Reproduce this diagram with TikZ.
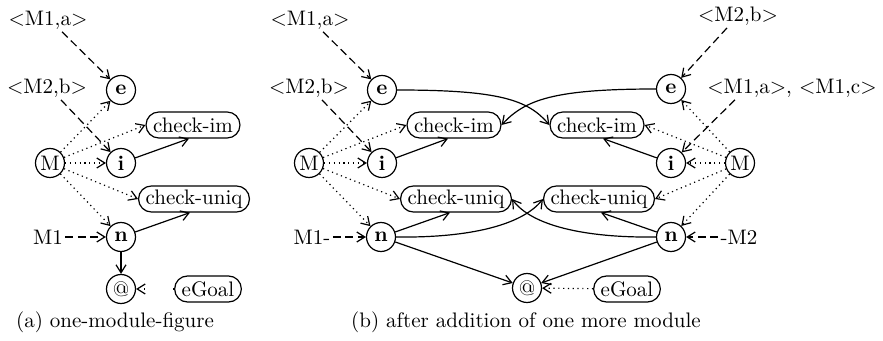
\documentclass[tikz,border=0pt]{standalone}
\usetikzlibrary{arrows.meta}
\begin{document}
\begin{tikzpicture}[x=0.5pt,y=-0.5pt,
  every node/.style={font=\fontsize{10.5}{12.6}\selectfont},
  line width=0.6pt,
  >={Straight Barb[length=4pt,width=5pt]},
  cnode/.style={circle,draw,minimum size=14.5pt,inner sep=0pt},
  rbox/.style={draw,rounded corners=6.4pt,minimum height=13pt,inner xsep=3.5pt,inner ysep=0pt},
  lbl/.style={inner sep=1pt},
  dsh/.style={dash pattern=on 4pt off 2.2pt},
  dotl/.style={dash pattern=on 0.6pt off 1.8pt},
  sparse/.style={dash pattern=on 0.6pt off 14pt}]
\useasboundingbox (0,0) rectangle (883,341);

% ---------- panel (a) ----------
\node[lbl] (la1) at (48,20) {\textless M1,a\textgreater};
\node[lbl] (la2) at (47,88) {\textless M2,b\textgreater};
\node[cnode] (ea) at (121,90) {\textbf{e}};
\node[rbox] (cima) at (193,125) {check-im};
\node[cnode] (Ma) at (50,163) {M};
\node[cnode] (ia) at (121,163) {\textbf{i}};
\node[rbox] (cuna) at (194,199) {check-uniq};
\node[lbl] (m1a) at (48,237) {M1};
\node[cnode] (na) at (121,237) {\textbf{n}};
\node[cnode] (ata) at (121,289) {@};
\node[rbox] (ega) at (208,289) {eGoal};
\node (capa) at (115,322) {(a) one-module-figure};

\draw[dsh,->] ([xshift=7pt]la1.south) -- (ea);
\draw[dsh,->] ([xshift=7pt]la2.south) -- (ia);
\draw[dotl,->] (Ma) -- (ea);
\draw[dotl,->] (Ma) -- (cima.west);
\draw[dotl,->] (Ma) -- (ia);
\draw[dotl,->] (Ma) -- (cuna.west);
\draw[dotl,->] (Ma) -- (na);
\draw[->] (ia) -- ([xshift=-2pt]cima.south);
\draw[->] (na) -- ([xshift=-2pt]cuna.south);
\draw[->] (na) -- (ata);
\draw[sparse,->] (ega) -- (ata);
\draw[dsh,->] (m1a) -- (na);

% ---------- panel (b) ----------
\node[lbl] (lb1) at (310,20) {\textless M1,a\textgreater};
\node[lbl] (lb2) at (309,88) {\textless M2,b\textgreater};
\node[cnode] (eL) at (382,90) {\textbf{e}};
\node[rbox] (cimL) at (454,125) {check-im};
\node[cnode] (ML) at (309,163) {M};
\node[cnode] (iL) at (382,163) {\textbf{i}};
\node[rbox] (cunL) at (456,199) {check-uniq};
\node[lbl] (m1b) at (312,237) {M1-};
\node[cnode] (nL) at (381,237) {\textbf{n}};
\node[cnode] (atb) at (527,288) {@};
\node[rbox] (egb) at (627,289) {eGoal};

\node[lbl] (lr1) at (738,16) {\textless M2,b\textgreater};
\node[lbl] (lr2) at (792,88) {\textless M1,a\textgreater, \textless M1,c\textgreater};
\node[cnode] (eR) at (671,89) {\textbf{e}};
\node[rbox] (cimR) at (597,125) {check-im};
\node[cnode] (MR) at (740,163) {M};
\node[cnode] (iR) at (671,163) {\textbf{i}};
\node[rbox] (cunR) at (599,199) {check-uniq};
\node[cnode] (nR) at (671,237) {\textbf{n}};
\node[lbl] (m2) at (739,237) {-M2};
\node (capb) at (526,322) {(b) after addition of one more module};

% left module
\draw[dsh,->] ([xshift=6.5pt]lb1.south) -- (eL);
\draw[dsh,->] ([xshift=6.5pt]lb2.south) -- (iL);
\draw[dotl,->] (ML) -- (eL);
\draw[dotl,->] (ML) -- (cimL.west);
\draw[dotl,->] (ML) -- (iL);
\draw[dotl,->] (ML) -- (cunL.west);
\draw[dotl,->] (ML) -- (nL);
\draw[->] (iL) -- ([xshift=-3pt]cimL.south);
\draw[->] (nL) -- ([xshift=-3pt]cunL.south);
\draw[->] (nL) -- (atb);
\draw[dsh,->] (m1b) -- (nL);
\draw[->] (eL.east) .. controls (500,90) and (528,100) .. (cimR.west);
\draw[->] (nL.east) .. controls (470,238) and (522,225) .. (cunR.west);

% right module
\draw[dsh,->] ([xshift=-5.5pt]lr1.south) -- (eR);
\draw[dsh,->] ([xshift=-28.5pt]lr2.south) -- (iR);
\draw[dotl,->] (MR) -- (eR);
\draw[dotl,->] (MR) -- (cimR.east);
\draw[dotl,->] (MR) -- (iR);
\draw[dotl,->] (MR) -- (cunR.east);
\draw[dotl,->] (MR) -- (nR);
\draw[->] (iR) -- ([xshift=3pt]cimR.south);
\draw[->] (nR) -- ([xshift=1pt]cunR.south);
\draw[->] (nR) -- (atb);
\draw[dsh,->] (m2) -- (nR);
\draw[->] (eR.west) .. controls (553,89) and (525,100) .. (cimL.east);
\draw[->] (nR.west) .. controls (583,238) and (531,225) .. (cunL.east);
\draw[dotl,->] (egb) -- (atb);
\end{tikzpicture}
\end{document}
